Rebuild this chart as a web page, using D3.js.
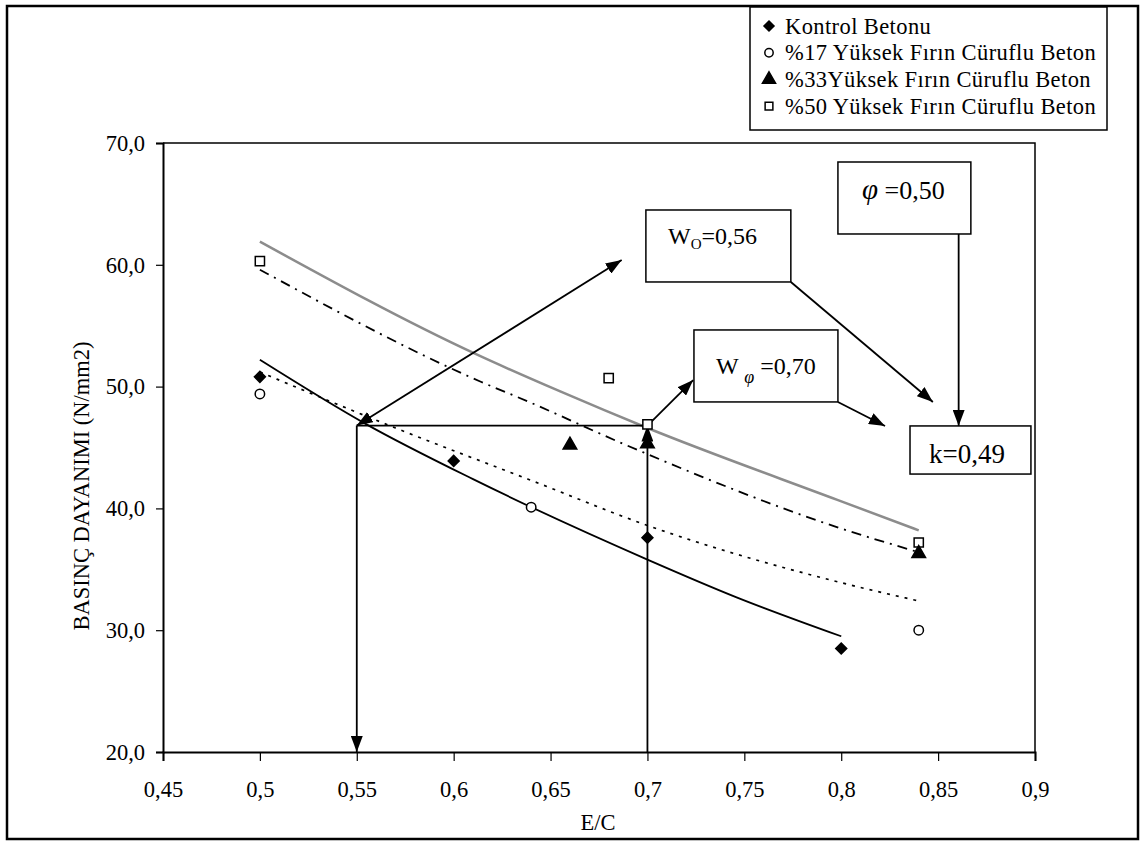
<!DOCTYPE html>
<html>
<head>
<meta charset="utf-8">
<script src="https://cdn.jsdelivr.net/npm/d3@7"></script>
<style>
  html, body { margin: 0; padding: 0; background: #fff; }
  svg { display: block; }
  svg text { font-family: "Liberation Serif", "Times New Roman", serif; fill: #000; }
</style>
</head>
<body>
<svg id="chart" width="1141" height="842" font-family="Liberation Serif, Times New Roman, serif"></svg>
<script>
// Measured compressive strength by water/cement ratio (E/C)
const kontrolEC   = [0.5, 0.6, 0.7, 0.8];
const kontrolVal  = [50.8, 43.9, 37.6, 28.5];
const cur17EC     = [0.5, 0.64, 0.84];
const cur17Val    = [49.4, 40.1, 30.0];
const cur33EC     = [0.66, 0.7, 0.84];
const cur33Val    = [45.2, 45.3, 36.3];
const cur50EC     = [0.5, 0.68, 0.7, 0.84];
const cur50Val    = [60.3, 50.7, 46.9, 37.2];

// Trend curves, sampled along each fitted line
const trendKontrolEC  = [0.5, 0.555, 0.61, 0.7, 0.746, 0.8];
const trendKontrolVal = [52.2, 46.9, 42.4, 35.8, 32.7, 29.5];
const trend17EC       = [0.5, 0.57, 0.64, 0.7, 0.8, 0.84];
const trend17Val      = [51.2, 46.6, 42.3, 38.6, 33.9, 32.4];
const trend33EC       = [0.5, 0.614, 0.638, 0.689, 0.799, 0.84];
const trend33Val      = [59.6, 50.4, 48.8, 45.2, 38.4, 36.4];
const trend50EC       = [0.5, 0.611, 0.655, 0.7, 0.798, 0.84];
const trend50Val      = [61.9, 52.7, 49.6, 46.6, 40.7, 38.2];

const seriesNames = [
  "Kontrol Betonu",
  "%17 Yüksek Fırın Cüruflu Beton",
  "%33Yüksek Fırın Cüruflu Beton",
  "%50 Yüksek Fırın Cüruflu Beton"
];

const xTicks = [0.45, 0.5, 0.55, 0.6, 0.65, 0.7, 0.75, 0.8, 0.85, 0.9];
const yTicks = [20, 30, 40, 50, 60, 70];

// Graphical construction read on the chart
const wO = 0.55;        // E/C where control strength equals target
const wPhi = 0.70;      // E/C of slag concrete at same strength
const targetStrength = 46.8;

const FONT = '"Liberation Serif", "Times New Roman", serif';
const svg = d3.select("#chart");

// outer chart frame
svg.append("rect")
  .attr("x", 7).attr("y", 6).attr("width", 1131).attr("height", 833)
  .attr("fill", "#fff").attr("stroke", "#000").attr("stroke-width", 2.5);

const x = d3.scaleLinear().domain([0.45, 0.9]).range([163, 1035]);
const y = d3.scaleLinear().domain([20, 70]).range([752, 143]);

// plot area border (top & right)
svg.append("path")
  .attr("d", `M${x(0.45)},${y(70)}H${x(0.9)}V${y(20)}`)
  .attr("fill", "none").attr("stroke", "#000").attr("stroke-width", 1.5);

const fmtX = d => String(d).replace(".", ",");
const fmtY = d => d3.format(".1f")(d).replace(".", ",");

const xAxis = svg.append("g")
  .attr("transform", `translate(0,${y(20)})`)
  .call(d3.axisBottom(x).tickValues(xTicks).tickFormat(fmtX).tickSize(9).tickPadding(20));
const yAxis = svg.append("g")
  .attr("transform", `translate(${x(0.45)},0)`)
  .call(d3.axisLeft(y).tickValues(yTicks).tickFormat(fmtY).tickSize(7).tickPadding(11));

[xAxis, yAxis].forEach(g => {
  g.attr("font-family", FONT);
  g.select(".domain").attr("stroke", "#000").attr("stroke-width", 2);
  g.selectAll(".tick line").attr("stroke", "#000").attr("stroke-width", 1.2);
  g.selectAll(".tick text")
    .style("font-family", FONT)
    .style("font-size", "22.5px").attr("fill", "#000");
});
xAxis.selectAll(".tick text").attr("dy", "0.71em");

svg.append("text")
  .attr("x", 598).attr("y", 830)
  .attr("text-anchor", "middle").style("font-family", FONT).style("font-size", "22.5px").text("E/C");

svg.append("text")
  .attr("transform", "translate(89,486) rotate(-90)")
  .attr("text-anchor", "middle").style("font-family", FONT).style("font-size", "22.5px")
  .text("BASINÇ DAYANIMI (N/mm2)");

// arrow marker
const defs = svg.append("defs");
defs.append("marker")
  .attr("id", "arrow")
  .attr("viewBox", "0 0 16 12")
  .attr("refX", 16).attr("refY", 6)
  .attr("markerWidth", 16).attr("markerHeight", 12)
  .attr("markerUnits", "userSpaceOnUse")
  .attr("orient", "auto-start-reverse")
  .append("path").attr("d", "M0,0L16,6L0,12Z").attr("fill", "#000");

// trend lines
const line = d3.line().x(d => x(d[0])).y(d => y(d[1])).curve(d3.curveMonotoneX);
const zip = (a, b) => a.map((v, i) => [v, b[i]]);

svg.append("path").datum(zip(trend50EC, trend50Val))
  .attr("d", line).attr("fill", "none").attr("stroke", "#8c8c8c").attr("stroke-width", 2.5);
svg.append("path").datum(zip(trend33EC, trend33Val))
  .attr("d", line).attr("fill", "none").attr("stroke", "#000").attr("stroke-width", 1.8)
  .attr("stroke-dasharray", "10,6,2,6");
svg.append("path").datum(zip(trend17EC, trend17Val))
  .attr("d", line).attr("fill", "none").attr("stroke", "#000").attr("stroke-width", 1.7)
  .attr("stroke-dasharray", "3,6");
svg.append("path").datum(zip(trendKontrolEC, trendKontrolVal))
  .attr("d", line).attr("fill", "none").attr("stroke", "#000").attr("stroke-width", 1.8);

// construction lines
const ann = svg.append("g").attr("stroke", "#000").attr("stroke-width", 1.8).attr("fill", "none");
ann.append("line")
  .attr("x1", x(wPhi)).attr("y1", y(targetStrength))
  .attr("x2", x(wO)).attr("y2", y(targetStrength));
ann.append("line")
  .attr("x1", x(wO)).attr("y1", y(targetStrength))
  .attr("x2", x(wO)).attr("y2", y(20))
  .attr("marker-end", "url(#arrow)");
ann.append("line")
  .attr("x1", x(wPhi)).attr("y1", y(20))
  .attr("x2", x(wPhi)).attr("y2", y(targetStrength))
  .attr("marker-end", "url(#arrow)");
ann.append("line")
  .attr("x1", x(0.6867)).attr("y1", y(60.39))
  .attr("x2", x(wO)).attr("y2", y(targetStrength))
  .attr("marker-start", "url(#arrow)")
  .attr("marker-end", "url(#arrow)");
ann.append("line")
  .attr("x1", x(wPhi)).attr("y1", y(targetStrength))
  .attr("x2", x(0.7236)).attr("y2", y(50.54))
  .attr("marker-end", "url(#arrow)");
ann.append("line")
  .attr("x1", x(0.774)).attr("y1", y(58.59))
  .attr("x2", x(0.8473)).attr("y2", y(48.74))
  .attr("marker-end", "url(#arrow)");
ann.append("line")
  .attr("x1", x(0.7983)).attr("y1", y(48.74))
  .attr("x2", x(0.8226)).attr("y2", y(46.77))
  .attr("marker-end", "url(#arrow)");
ann.append("line")
  .attr("x1", x(0.8606)).attr("y1", y(62.53))
  .attr("x2", x(0.8606)).attr("y2", y(46.77))
  .attr("marker-end", "url(#arrow)");

// markers (diamond = square turned 45 degrees)
const sym = (type, size) => d3.symbol().type(type).size(size)();
function drawPoints(ecs, vals, type, size, fill, rot) {
  svg.append("g").selectAll("path")
    .data(zip(ecs, vals)).join("path")
    .attr("transform", d => `translate(${x(d[0])},${y(d[1])}) rotate(${rot || 0})`)
    .attr("d", sym(type, size))
    .attr("fill", fill).attr("stroke", "#000").attr("stroke-width", 1.5);
}
drawPoints(cur50EC, cur50Val, d3.symbolSquare, 85, "#fff");
drawPoints(cur17EC, cur17Val, d3.symbolCircle, 70, "#fff");
drawPoints(cur33EC, cur33Val, d3.symbolTriangle, 80, "#000");
drawPoints(kontrolEC, kontrolVal, d3.symbolSquare, 60, "#000", 45);

// annotation boxes
function box(x0, y0, x1, y1) {
  svg.append("rect")
    .attr("x", x(x0)).attr("y", y(y0))
    .attr("width", x(x1) - x(x0)).attr("height", y(y1) - y(y0))
    .attr("fill", "#fff").attr("stroke", "#000").attr("stroke-width", 1.5);
}
box(0.6992, 64.5, 0.774, 58.59);
box(0.724, 54.65, 0.7983, 48.74);
box(0.7983, 68.44, 0.8669, 62.53);
box(0.8355, 46.77, 0.8979, 42.82);

const t1 = svg.append("text").attr("x", 668).attr("y", 244).style("font-family", FONT).style("font-size", "24px");
t1.append("tspan").text("W");
t1.append("tspan").attr("dy", 5).style("font-size", "15px").text("O");
t1.append("tspan").attr("dy", -5).text("=0,56");

const t2 = svg.append("text").attr("x", 716).attr("y", 374).style("font-family", FONT).style("font-size", "24px");
t2.append("tspan").text("W ");
t2.append("tspan").attr("dy", 9).style("font-size", "18px").style("font-style", "italic").text("φ");
t2.append("tspan").attr("dy", -9).text(" =0,70");

const t3 = svg.append("text").attr("x", 862).attr("y", 199).style("font-family", FONT).style("font-size", "26px");
t3.append("tspan").style("font-size", "29px").style("font-style", "italic").text("φ");
t3.append("tspan").text(" =0,50");

svg.append("text").attr("x", 929).attr("y", 463).style("font-family", FONT).style("font-size", "27px").text("k=0,49");

// legend
const lg = svg.append("g");
lg.append("rect").attr("x", 750).attr("y", 7).attr("width", 357).attr("height", 123)
  .attr("fill", "#fff").attr("stroke", "#000").attr("stroke-width", 1.5);
const legendTypes = [
  [d3.symbolSquare, 50, "#000", 45],
  [d3.symbolCircle, 55, "#fff", 0],
  [d3.symbolTriangle, 75, "#000", 0],
  [d3.symbolSquare, 60, "#fff", 0]
];
seriesNames.forEach((name, i) => {
  const cy = 26 + i * 26.7;
  lg.append("path")
    .attr("transform", `translate(769,${cy}) rotate(${legendTypes[i][3]})`)
    .attr("d", sym(legendTypes[i][0], legendTypes[i][1]))
    .attr("fill", legendTypes[i][2]).attr("stroke", "#000").attr("stroke-width", 1.5);
  lg.append("text").attr("x", 785).attr("y", cy + 7.5)
    .style("font-family", FONT).style("font-size", "22.5px")
    .style("letter-spacing", "0.4px").text(name);
});
</script>
</body>
</html>
